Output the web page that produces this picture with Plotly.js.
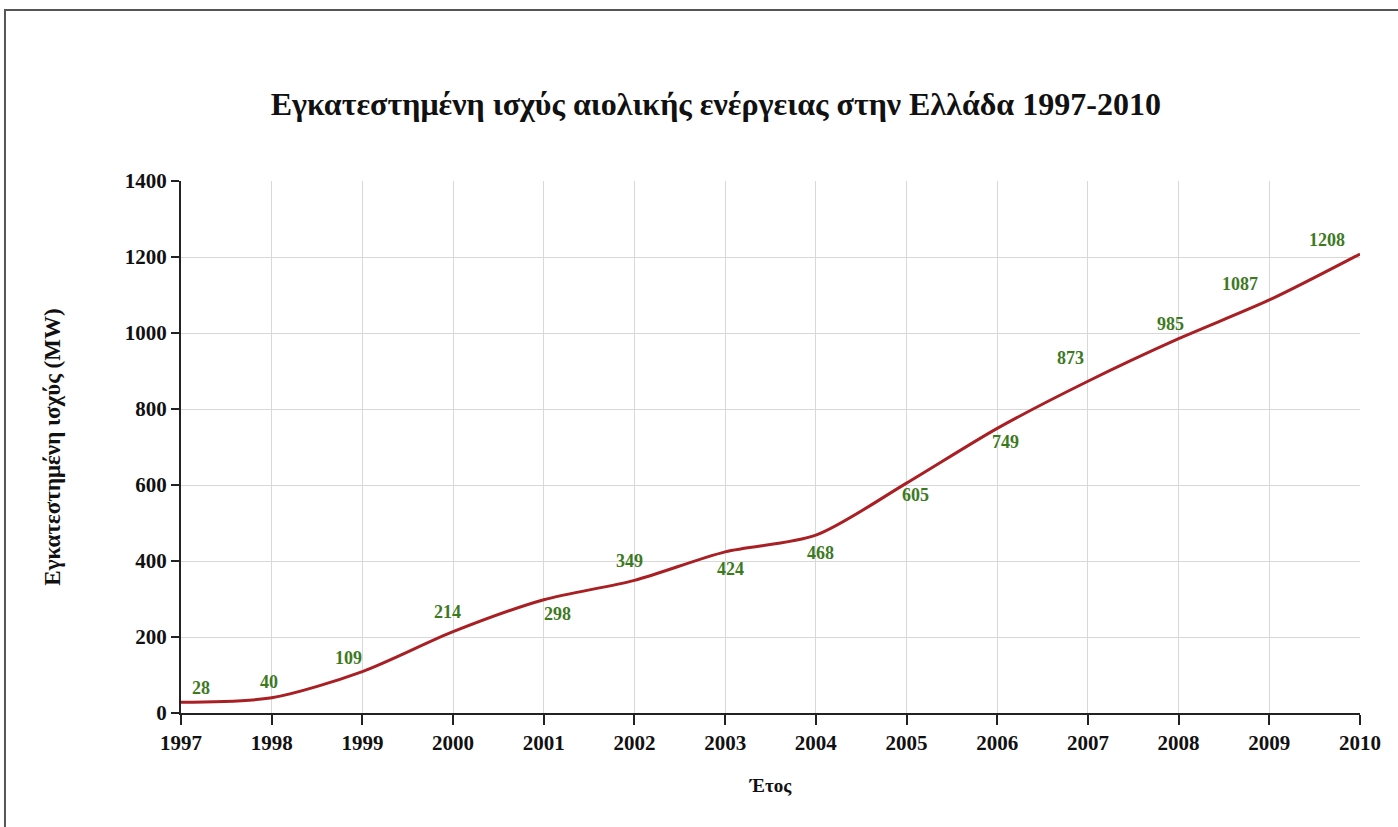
<!DOCTYPE html>
<html>
<head>
<meta charset="utf-8">
<script src="https://cdn.plot.ly/plotly-3.0.1.min.js"></script>
<style>
html,body{margin:0;padding:0;background:#fff;overflow:hidden;}
#chart{width:1398px;height:827px;}
</style>
</head>
<body>
<div id="chart"></div>
<script>
// Data
const years = [1997,1998,1999,2000,2001,2002,2003,2004,2005,2006,2007,2008,2009,2010];
const capacityMW = [28,40,109,214,298,349,424,468,605,749,873,985,1087,1208];
const xTickLabels = ['1997','1998','1999','2000','2001','2002','2003','2004','2005','2006','2007','2008','2009','2010'];
const chartTitle = 'Εγκατεστημένη ισχύς αιολικής ενέργειας στην Ελλάδα 1997-2010';
const yTitle = 'Εγκατεστημένη ισχύς (MW)';
const xTitle = 'Έτος';

// Label pixel offsets (layout, not data)
const labelDx = [20,-3,-14,-6,14,-5,5,5,9,8,-17,-8,-29,-33];
const labelDy = [14,16,14,20,-14,19,-17,-18,-12,-14,23,15,16,14];

const serif = '"Liberation Serif", "Times New Roman", serif';
const green = '#3d7a1f';

const trace = {
  x: years,
  y: capacityMW,
  type: 'scatter',
  mode: 'lines',
  line: {color: '#a81f24', width: 3, shape: 'spline', smoothing: 0.8},
  hoverinfo: 'x+y'
};

const annotations = years.map((yr, i) => ({
  x: yr, y: capacityMW[i], xref: 'x', yref: 'y',
  text: '<b>' + capacityMW[i] + '</b>',
  showarrow: false,
  xshift: labelDx[i], yshift: labelDy[i],
  font: {family: serif, size: 18, color: green}
}));

const layout = {
  width: 1398, height: 827,
  paper_bgcolor: '#ffffff', plot_bgcolor: '#ffffff',
  margin: {l: 181, r: 38, t: 181, b: 114},
  showlegend: false,
  title: {
    text: '<b>' + chartTitle + '</b>',
    font: {family: serif, size: 32, color: '#111'},
    x: 0.512, xanchor: 'center', y: 0.875, yanchor: 'middle', yref: 'container'
  },
  xaxis: {
    range: [1997, 2010],
    tickmode: 'array', tickvals: years, ticktext: xTickLabels,
    ticks: 'outside', ticklen: 10, tickwidth: 2, tickcolor: '#222',
    showline: true, linecolor: '#222', linewidth: 2,
    showgrid: true, gridcolor: '#d8d8d8', gridwidth: 1,
    zeroline: false,
    tickfont: {family: serif, size: 21, color: '#111', weight: 'bold'},
    title: {text: '<b>' + xTitle + '</b>', font: {family: serif, size: 19, color: '#111'}, standoff: 24}
  },
  yaxis: {
    range: [0, 1400],
    tickvals: [0,200,400,600,800,1000,1200,1400],
    ticks: 'outside', ticklen: 8, tickwidth: 2, tickcolor: '#222',
    showline: true, linecolor: '#222', linewidth: 2,
    showgrid: true, gridcolor: '#d8d8d8', gridwidth: 1,
    zeroline: false,
    tickfont: {family: serif, size: 21, color: '#111', weight: 'bold'},
    title: {text: '<b>' + yTitle + '</b>', font: {family: serif, size: 23, color: '#111'}, standoff: 58}
  },
  annotations: annotations,
  shapes: [{
    type: 'rect', xref: 'paper', yref: 'paper',
    x0: -0.1493, x1: 1.05, y0: -0.25, y1: 1.3214,
    line: {color: '#555', width: 2}, layer: 'below'
  }]
};

Plotly.newPlot('chart', [trace], layout, {displayModeBar: false, staticPlot: true});
</script>
</body>
</html>
